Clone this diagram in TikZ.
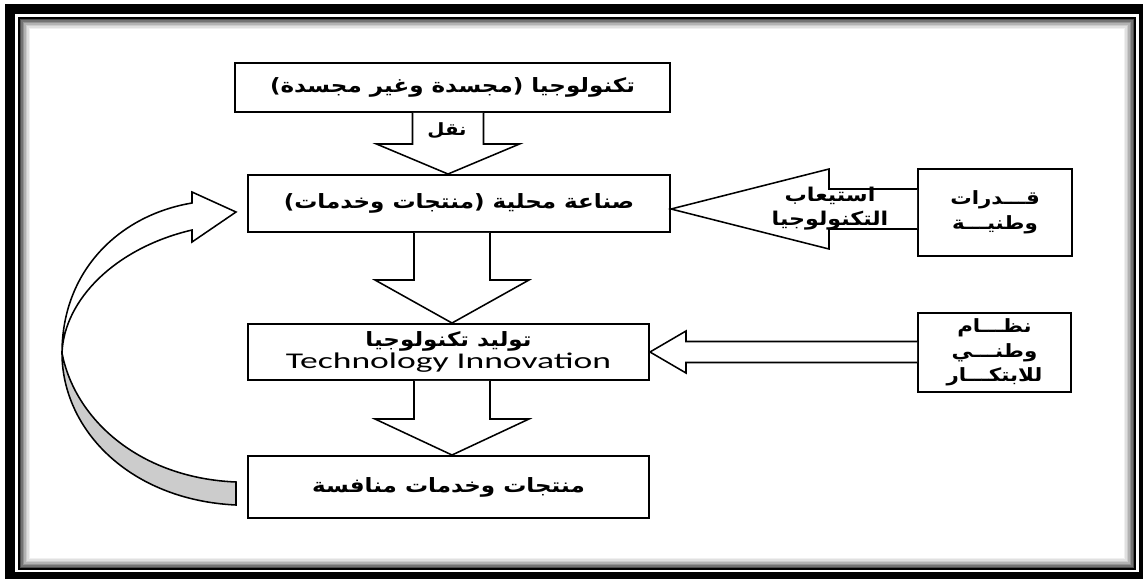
\documentclass[tikz,border=0pt]{standalone}
\usepackage{fontspec}
\setmainfont{DejaVu Sans}
\newfontfamily\arabicfont[Script=Arabic, FakeStretch=1.17]{DejaVu Sans}
\newfontfamily\latinfont[FakeStretch=1.58]{Carlito}
\usetikzlibrary{calc}
\TeXXeTstate=1
\newcommand{\ar}[1]{{\arabicfont\bfseries\beginR #1\endR}}
\newcommand{\pw}[1]{#1*0.025cm}
\newcommand{\blkdown}[6]{\draw[blk] (#1.south -| {#3-#4},0) -- ({#3-#4},#6) -- ({#3-#5},#6)
  -- (#2.north -| #3,0) -- ({#3+#5},#6) -- ({#3+#4},#6) -- (#1.south -| {#3+#4},0);}
\newcommand{\blkleft}[6]{\draw[blk] (#1.west |- 0,{#3-#4}) -- (#6,{#3-#4}) -- (#6,{#3-#5})
  -- (#2.east |- 0,#3) -- (#6,{#3+#5}) -- (#6,{#3+#4}) -- (#1.west |- 0,{#3+#4});}

\begin{document}
\begin{tikzpicture}[x=0.025cm, y=-0.025cm,
      every node/.style={font=\fontsize{14}{17}\selectfont},
      box/.style={draw, line width=1.4pt, inner sep=0pt, align=center},
      side/.style={box, font=\fontsize{13}{17.5}\selectfont},
      blk/.style={draw, line width=1.1pt, fill=white, line join=miter},
      curl/.style={draw, line width=1.1pt}]
    \useasboundingbox (0,0) rectangle (1143,579);
    \fill[white] (0,0) rectangle (1143,579);
    \fill[black] (5,4) rectangle (1143,579);
    \fill[white] (15,14) rectangle (1139,572);
    \foreach \i/\g in {1/70,2/55,3/42,4/30,5/20,6/12,7/6}
      \draw[black!\g, line width=1.2pt] ({19+1.5*\i},{18+1.5*\i}) rectangle ({1135-1.5*\i},{569-1.5*\i});
    \draw[line width=1.2pt] (19,18) rectangle (1135,569);

    \node[box, minimum width=\pw{435}, minimum height=\pw{49}] (tech) at (452.5,87.5)
      {\ar{تكنولوجيا (مجسدة وغير مجسدة)}};
    \node[box, minimum width=\pw{422}, minimum height=\pw{57}] (local) at (459,203.5)
      {\ar{صناعة محلية (منتجات وخدمات)}};
    \node[box, minimum width=\pw{401}, minimum height=\pw{56}] (innov) at (448.5,352)
      {\ar{توليد تكنولوجيا}\\[-1pt]{\latinfont\fontsize{16}{18}\selectfont Technology Innovation}};
    \node[box, minimum width=\pw{401}, minimum height=\pw{62}] (compet) at (448.5,487)
      {\ar{منتجات وخدمات منافسة}};
    \node[side, minimum width=\pw{154}, minimum height=\pw{87}] (capab) at (995,212.5)
      {\ar{قـــدرات}\\\ar{وطنيـــة}};
    \node[side, minimum width=\pw{153}, minimum height=\pw{79}] (nis) at (994.5,352.5)
      {\ar{نظـــام}\\\ar{وطنـــي}\\\ar{للابتكـــار}};

    \blkdown{tech}{local}{448}{35.5}{71.5}{144}
    \blkdown{local}{innov}{452}{38}{77}{280}
    \blkdown{innov}{compet}{452}{38}{77}{419}
    \blkleft{capab}{local}{209}{20}{40}{829}
    \blkleft{nis}{innov}{352}{10.5}{21}{686}

    \node[font=\fontsize{12}{14}\selectfont] (transfer) at (447,131) {\ar{نقل}};
    \node[align=center, font=\fontsize{13.5}{16.5}\selectfont] (absorb) at (830,208.5)
      {\ar{استيعاب}\\\ar{التكنولوجيا}};

    \coordinate (tailT) at ($(compet.west)+(-11,-5)$);
    \coordinate (tailB) at ($(compet.west)+(-11,18)$);
    \coordinate (tip) at ($(local.west)+(-11,8.5)$);
    \coordinate (hdT) at ($(local.west)+(-55,-11.5)$);
    \coordinate (hdB) at ($(local.west)+(-55,38.5)$);
    \coordinate (shO) at ($(local.west)+(-55,-0.5)$);
    \coordinate (shI) at ($(local.west)+(-55,26.5)$);
    \coordinate (bend) at (62,353);
    \draw[curl, fill=black!20] (bend) .. controls (62,430) and (130,500) .. (tailB) -- (tailT)
      .. controls (140,478) and (75,420) .. (bend) -- cycle;
    \draw[curl, fill=white, line join=miter] (bend) .. controls (62,270) and (120,215) .. (shO)
      -- (hdT) -- (tip) -- (hdB) -- (shI) .. controls (115,248) and (64,300) .. (bend) -- cycle;
  \end{tikzpicture}
\end{document}
